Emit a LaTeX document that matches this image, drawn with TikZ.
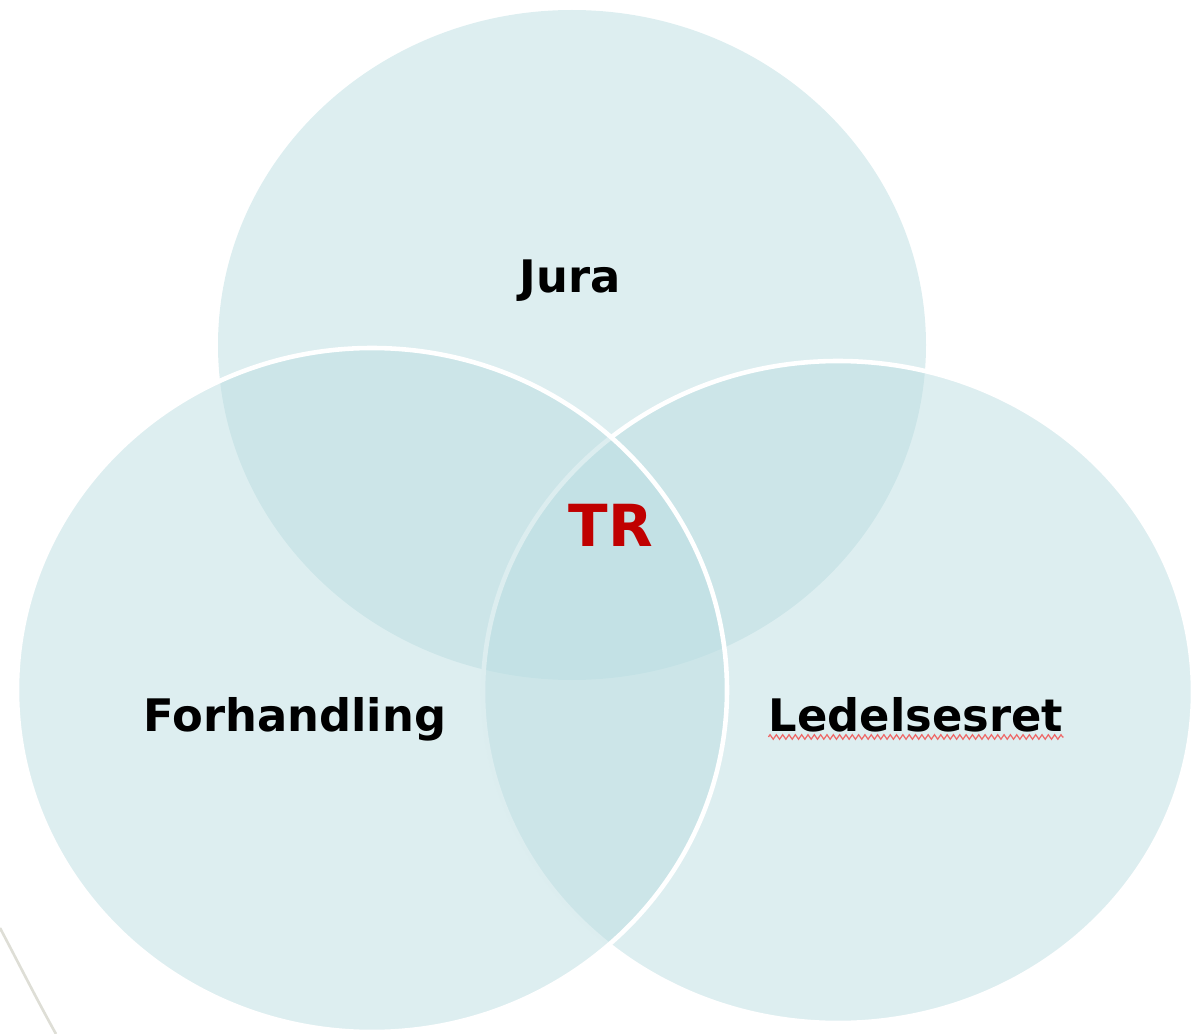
\documentclass[tikz,border=0pt]{standalone}
\usepackage{fontspec}
\setmainfont{DejaVu Sans}
\usetikzlibrary{decorations.pathmorphing}
\definecolor{venn}{RGB}{187,221,225}
\definecolor{trred}{RGB}{192,0,0}
\definecolor{arcgrey}{RGB}{222,222,214}
\definecolor{spell}{RGB}{238,104,104}
\begin{document}
\begin{tikzpicture}[x=0.02cm,y=-0.02cm,
  set/.style={fill=venn,fill opacity=0.5},
  rimmed/.style={set,draw=white,line width=2.6pt},
  label/.style={font=\fontsize{25.5}{30}\selectfont\bfseries,text=black,anchor=base,inner sep=0pt},
  core/.style={font=\fontsize{33}{38}\selectfont\bfseries,text=trred,anchor=base,inner sep=0pt}]
  \useasboundingbox (0,0) rectangle (1191,1034);
  \clip (0,0) rectangle (1191,1034);
  % faint arc in the lower left corner
  \draw[arcgrey,line width=1.5pt] (0,928) .. controls (18,962) and (36,998) .. (56,1034);
  % the three sets
  \path[set] (572,345) ellipse [x radius=354, y radius=335];
  \path[rimmed] (838,692) ellipse [x radius=355, y radius=331];
  \path[rimmed] (372,690) ellipse [x radius=355, y radius=342];
  % labels
  \node[label] (jura) at (570,293) {Jura};
  \node[label] (forh) at (295,731) {Forhandling};
  \node[label] (led) at (916,731) {Ledelsesret};
  \node[core] (tr) at (611,546) {TR};
  % spelling mark under the right label
  \draw[spell,line width=0.7pt,decorate,decoration={zigzag,amplitude=1.3,segment length=3.6}]
    ([yshift=-3.4pt]led.base west) -- ([yshift=-3.4pt]led.base east);
\end{tikzpicture}
\end{document}
